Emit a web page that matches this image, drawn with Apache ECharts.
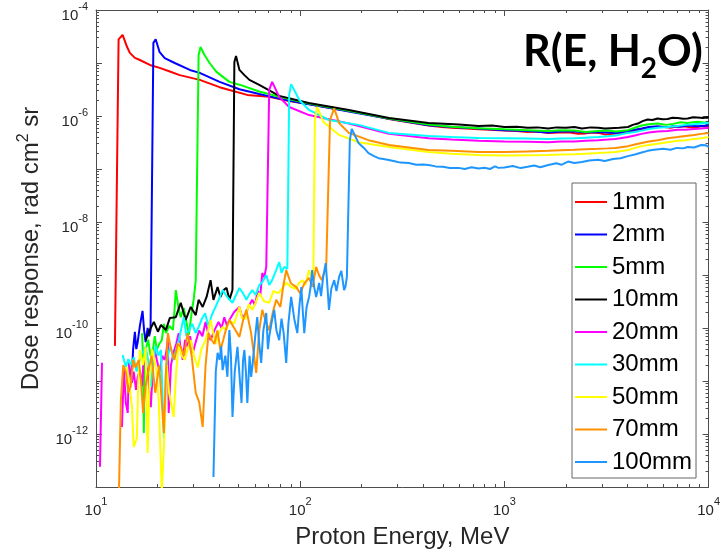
<!DOCTYPE html>
<html><head><meta charset="utf-8">
<script src="https://cdn.jsdelivr.net/npm/echarts@6/dist/echarts.min.js"></script>
<style>html,body{margin:0;padding:0;background:#fff}#c{width:723px;height:555px}</style>
</head><body><div id="c"></div>
<script>
// ---------------- data ----------------
const seriesNames = ['1mm','2mm','5mm','10mm','20mm','30mm','50mm','70mm','100mm'];

const d1mm = [[12.38,4.6e-11],[12.9,2.8e-5],[13.5,3.4e-5],[14.2,2.0e-5],[14.65,1.55e-5],[15.5,1.25e-5],[16.4,1.14e-5],[18.35,9.2e-6],[20.5,8.1e-6],[23,6.9e-6],[25.7,5.9e-6],[32.2,4.8e-6],[40.3,3.5e-6],[45,3.1e-6],[55,2.5e-6],[70.5,2.3e-6],[88,1.92e-6],[110,1.68e-6],[140,1.42e-6],[173,1.24e-6],[220,1.04e-6],[272,8.8e-7],[340,7.6e-7],[425,6.6e-7],[480,6.3e-7],[550,6.0e-7],[650,5.8e-7],[747,5.6e-7],[850,5.5e-7],[1000,5.3e-7],[1150,5.2e-7],[1300,5.0e-7],[1450,5.1e-7],[1640,4.8e-7],[1850,4.9e-7],[2100,4.9e-7],[2300,4.6e-7],[2500,4.7e-7],[2700,4.9e-7],[2880,4.8e-7],[3100,4.5e-7],[3400,4.6e-7],[3700,4.8e-7],[4030,5.0e-7],[4350,5.3e-7],[4700,5.6e-7],[5100,5.9e-7],[5630,6.2e-7],[6000,6.3e-7],[6500,6.0e-7],[7000,6.3e-7],[7500,6.4e-7],[8200,6.1e-7],[8800,6.2e-7],[9400,6.5e-7],[10000,6.3e-7]];

const d2mm = [[15.0,1.42e-11],[15.2,4e-11],[15.5,8.5e-11],[15.75,4e-11],[16.0,5.4e-11],[16.4,1.1e-10],[16.9,2.1e-10],[17.2,9e-11],[17.5,5.4e-11],[17.9,1.0e-10],[18.2,7e-11],[18.5,9.2e-11],[19.1,2.4e-5],[19.6,2.8e-5],[20.5,1.6e-5],[21.7,1.24e-5],[24.3,1.0e-5],[28.8,7.4e-6],[32.2,6.5e-6],[40.3,4.4e-6],[50.4,3.2e-6],[63,2.6e-6],[78,2.15e-6],[100,1.78e-6],[140,1.42e-6],[173,1.22e-6],[272,8.9e-7],[425,6.7e-7],[550,6.2e-7],[747,5.8e-7],[1000,5.4e-7],[1300,5.2e-7],[1640,4.9e-7],[1900,5.1e-7],[2200,5.1e-7],[2500,4.9e-7],[2880,5.0e-7],[3200,4.9e-7],[3500,4.8e-7],[4030,5.2e-7],[4350,5.5e-7],[4700,5.8e-7],[5100,6.2e-7],[5630,6.4e-7],[6200,6.1e-7],[6700,6.4e-7],[7300,6.3e-7],[7900,6.6e-7],[8800,6.4e-7],[10000,6.6e-7]];

const d5mm = [[16.8,8e-11],[17.0,3e-11],[17.15,1.04e-12],[17.3,1.5e-11],[17.5,3.85e-11],[18.0,6e-11],[18.5,3e-11],[19.0,3.85e-11],[19.4,7e-11],[19.85,3.85e-11],[20.4,5e-11],[21.0,5.9e-11],[21.5,1.2e-10],[22.0,8e-11],[22.9,1.1e-10],[23.8,9.2e-11],[24.2,2e-10],[24.6,5.2e-10],[25.3,2.5e-10],[26.0,1.6e-10],[26.9,2.4e-10],[27.7,1.3e-10],[28.5,7.4e-11],[29.4,1.92e-10],[30.1,3.5e-10],[30.8,8e-10],[31.8,1.4e-5],[32.5,2.0e-5],[34.0,1.42e-5],[36.0,1.0e-5],[38.9,6.8e-6],[45,4.4e-6],[50.4,3.9e-6],[63,2.9e-6],[79,2.3e-6],[110,1.72e-6],[173,1.26e-6],[272,9.0e-7],[425,6.9e-7],[550,6.3e-7],[747,5.9e-7],[1000,5.6e-7],[1300,5.4e-7],[1640,5.2e-7],[1900,5.4e-7],[2200,5.3e-7],[2500,5.0e-7],[2880,5.2e-7],[3200,5.3e-7],[3500,5.1e-7],[4030,5.4e-7],[4350,6.0e-7],[4700,6.6e-7],[5100,7.0e-7],[5630,7.2e-7],[6200,6.8e-7],[6700,7.1e-7],[7300,7.6e-7],[7900,7.4e-7],[8800,7.8e-7],[10000,7.4e-7]];

const d10mm = [[17.5,5.9e-11],[18.35,9.2e-11],[19.2,1.3e-10],[20.1,8.5e-11],[20.8,1.14e-10],[22.0,9.2e-11],[23.0,1.55e-10],[24.6,1.6e-10],[26.0,3.0e-10],[27.5,1.42e-10],[29.1,2.5e-10],[30.8,1.75e-10],[31.8,3.4e-10],[33.3,2.5e-10],[34.8,3.85e-10],[36.4,8e-10],[37.6,3.4e-10],[39.4,5.9e-10],[40.7,3.85e-10],[42.1,5.2e-10],[43.6,5.7e-10],[45.0,3.4e-10],[46.6,5.2e-10],[47.6,1.04e-5],[48.5,1.35e-5],[50.4,7.4e-6],[53.3,5.9e-6],[56.4,4.8e-6],[63,3.85e-6],[79,2.4e-6],[110,1.76e-6],[173,1.3e-6],[272,9.2e-7],[425,7.4e-7],[600,6.9e-7],[747,6.5e-7],[870,6.6e-7],[1000,6.2e-7],[1150,6.3e-7],[1300,6.0e-7],[1450,6.1e-7],[1640,5.8e-7],[1800,6.1e-7],[2000,6.0e-7],[2200,6.2e-7],[2400,5.8e-7],[2650,6.1e-7],[2880,6.0e-7],[3100,5.8e-7],[3300,5.9e-7],[3650,6.0e-7],[4030,6.2e-7],[4250,6.8e-7],[4500,7.2e-7],[4750,8.0e-7],[5030,8.6e-7],[5300,8.4e-7],[5630,9.0e-7],[5950,8.7e-7],[6300,8.8e-7],[6650,9.3e-7],[7060,9.2e-7],[7500,8.9e-7],[7900,9.0e-7],[8400,9.5e-7],[8800,9.4e-7],[9400,9.2e-7],[10000,9.6e-7]];

const d20mm = [[10.46,2.4e-13],[10.7,2.2e-11],[10.9,'-'],[13.4,1.36e-12],[13.7,1.6e-11],[14.0,3.85e-12],[14.3,2.5e-12],[14.5,2.2e-11],[15.0,9.2e-12],[15.3,1.5e-11],[15.7,6.8e-12],[16.0,1.2e-11],[16.4,1.6e-11],[16.8,8e-12],[17.15,2.5e-11],[17.6,2e-11],[18.0,1.2e-11],[18.55,3.2e-12],[19.0,1.8e-11],[19.4,3.85e-11],[20.0,2.2e-11],[20.5,1.5e-11],[21.1,3e-11],[21.7,2.5e-11],[22.2,4e-11],[22.5,6.8e-11],[22.7,2.5e-12],[23.3,2e-11],[24.0,3.5e-11],[24.7,5e-11],[25.4,8e-11],[26.0,4e-11],[26.6,2.5e-11],[27.3,6e-11],[28.0,4.5e-11],[28.9,7e-11],[29.8,3.4e-11],[31,6e-11],[32.0,9e-11],[33.2,7e-11],[34.4,1.3e-10],[35.4,8e-11],[36.4,5.9e-11],[38,9e-11],[39.8,1.3e-10],[41.2,1e-10],[42.5,1.6e-10],[43.8,1.1e-10],[45,1.42e-10],[47.5,2e-10],[50.4,2.5e-10],[52,1.6e-10],[54,1.8e-10],[56,2.6e-10],[58.3,3.4e-10],[60,2.7e-10],[62,5.0e-10],[63.8,4.2e-10],[65.2,1.09e-9],[66.7,9e-10],[68.2,1.42e-9],[70.5,3.1e-6],[72.9,4.4e-6],[78.9,2.3e-6],[88.3,1.48e-6],[110.5,1.04e-6],[140,8.6e-7],[173,7.2e-7],[272,4.6e-7],[425,3.8e-7],[550,3.6e-7],[747,3.4e-7],[1000,3.3e-7],[1300,3.25e-7],[1640,3.2e-7],[1900,3.3e-7],[2200,3.3e-7],[2500,3.4e-7],[2880,3.5e-7],[3200,3.6e-7],[3500,3.7e-7],[4030,4.0e-7],[4350,4.3e-7],[4700,4.6e-7],[5100,4.9e-7],[5630,5.1e-7],[6300,5.2e-7],[7060,5.5e-7],[7700,5.5e-7],[8500,5.7e-7],[9200,5.8e-7],[10000,6.0e-7]];

const d30mm = [[13.5,3.1e-11],[14.0,1.84e-11],[14.4,2.6e-11],[14.8,2.0e-11],[15.3,2.8e-11],[15.8,1.5e-11],[16.6,3e-11],[17.5,4.4e-11],[18.0,2.5e-11],[18.55,7.7e-12],[19.1,2.5e-11],[19.6,4.6e-11],[20.2,3e-11],[20.8,3.85e-11],[21.5,8.4e-13],[22.0,1.5e-11],[22.5,3.1e-11],[23.2,4.5e-11],[24.0,2.5e-11],[24.7,4e-11],[25.5,6e-11],[26.2,1e-10],[26.9,1.6e-10],[27.7,7e-11],[28.5,9e-11],[29.6,1.2e-10],[30.8,8e-11],[32,1.1e-10],[33,1.5e-10],[34.2,1.9e-10],[35.5,1.1e-10],[37,1.8e-10],[38.5,2.5e-10],[40,3.5e-10],[41.7,5.2e-10],[44,3.8e-10],[46.6,3.0e-10],[48.5,4.2e-10],[50.4,5.7e-10],[52.5,4.5e-10],[54.5,3.4e-10],[56.5,4.4e-10],[58.3,5.2e-10],[60.5,4.2e-10],[63,6.4e-10],[65.5,7.5e-10],[68.2,1.0e-9],[70.5,6.5e-10],[72.9,8e-10],[76,1.2e-9],[78.9,1.76e-9],[81,1.1e-9],[83.5,1.42e-9],[86.5,1.3e-9],[88.3,2.5e-6],[90.3,4.0e-6],[99,2.0e-6],[110.5,1.3e-6],[138,8.4e-7],[193,6.8e-7],[272,4.8e-7],[425,4.2e-7],[550,4.0e-7],[747,3.85e-7],[1000,3.8e-7],[1300,3.75e-7],[1640,3.7e-7],[1900,3.75e-7],[2200,3.8e-7],[2500,3.9e-7],[2880,4.0e-7],[3200,4.15e-7],[3500,4.3e-7],[4030,4.8e-7],[4350,5.0e-7],[4700,5.3e-7],[5100,5.7e-7],[5630,6.0e-7],[6300,6.2e-7],[7060,6.5e-7],[7700,6.8e-7],[8500,7.0e-7],[9200,7.2e-7],[10000,7.4e-7]];

const d50mm = [[14.2,1.84e-11],[14.6,8e-12],[15.0,3.2e-12],[15.3,5.7e-13],[15.85,8.4e-13],[16.1,9e-12],[16.4,3.85e-11],[17.0,2e-11],[17.5,4.4e-11],[17.9,4.4e-13],[18.3,1e-11],[18.8,4e-11],[19.3,2.5e-11],[19.8,1.5e-11],[20.3,4e-12],[21.0,8e-14],[21.5,5.7e-13],[22.2,2e-11],[22.8,6e-12],[24.0,2.1e-12],[24.7,1.5e-11],[25.4,5.2e-11],[26.3,3e-11],[27.2,2.5e-11],[28.1,4e-11],[29.1,5.9e-11],[30.2,3e-11],[31.5,1.8e-11],[32.8,4e-11],[34.4,5.9e-11],[35.4,9e-11],[36.4,1.42e-10],[37.5,8e-11],[38.5,5e-11],[40,8e-11],[41.7,1.04e-10],[43.6,9.2e-11],[45,1.4e-10],[47.5,1.2e-10],[50.4,2.5e-10],[52,1.5e-10],[54,1.5e-10],[56,2.8e-10],[58.3,2.2e-10],[60.5,3e-10],[63,4.6e-10],[66.5,3.2e-10],[70.5,3.0e-10],[74,5e-10],[78,4.5e-10],[81.5,5.5e-10],[85.4,7.1e-10],[90,6e-10],[95,5.5e-10],[98.5,7e-10],[102.4,8e-10],[106,6.5e-10],[110.5,1.24e-9],[113.5,9e-10],[116,1.1e-9],[118,8.4e-7],[121,1.48e-6],[130,7.7e-7],[155,4.4e-7],[193,3.2e-7],[272,2.6e-7],[425,2.1e-7],[550,1.95e-7],[747,1.84e-7],[1000,1.8e-7],[1300,1.82e-7],[1640,1.84e-7],[1900,1.87e-7],[2200,1.9e-7],[2500,1.95e-7],[2880,2.0e-7],[3200,2.05e-7],[3500,2.1e-7],[4030,2.28e-7],[4350,2.5e-7],[4700,2.7e-7],[5100,2.85e-7],[5630,3.0e-7],[6300,3.2e-7],[7060,3.4e-7],[7700,3.5e-7],[8500,3.7e-7],[9200,3.8e-7],[10000,4.0e-7]];

const d70mm = [[12.95,8e-14],[13.24,4.4e-12],[13.6,2e-11],[14.0,1.5e-11],[14.4,6e-12],[14.8,8e-12],[15.2,2.5e-11],[15.6,1.8e-11],[16.2,2.5e-11],[16.6,1e-11],[17.0,2.5e-12],[17.5,8e-12],[18.0,1.5e-11],[18.7,3e-11],[19.5,6e-12],[20.4,2e-11],[21.0,4e-12],[21.5,1.04e-12],[22.0,1.5e-11],[22.5,8e-11],[23.3,4e-11],[24.2,2.5e-11],[25.1,5e-11],[26.0,4.4e-11],[27.0,3e-11],[28.1,8e-11],[29.4,3e-11],[30.8,5.9e-12],[32,4e-12],[33.3,1.36e-12],[34.4,2e-11],[35.6,8e-11],[36.8,6e-11],[38,5e-11],[39.3,9e-11],[40.7,3.85e-11],[42,6e-11],[43.5,1e-10],[45,1.42e-10],[47.5,1e-10],[50.4,6.8e-11],[52.5,1.4e-10],[54.5,2.2e-10],[57.5,8e-11],[60.9,1.42e-11],[63,9e-11],[65.2,2.2e-10],[68,1.3e-10],[70.5,9e-11],[73.5,2e-10],[76.3,3.4e-10],[80,2.5e-10],[82.5,6e-10],[85.4,1.24e-9],[90,7e-10],[95.7,5.9e-10],[100,4.5e-10],[105,7e-10],[110.5,8.8e-10],[115,6e-10],[119.7,1.42e-9],[123.5,1e-9],[127.4,8e-10],[131,1.1e-9],[134,1.3e-9],[140,8.4e-7],[146.7,1.4e-6],[155,7.4e-7],[173,4.8e-7],[216,3.5e-7],[272,2.84e-7],[425,2.28e-7],[550,2.2e-7],[747,2.1e-7],[1000,2.1e-7],[1300,2.15e-7],[1640,2.2e-7],[1900,2.25e-7],[2200,2.3e-7],[2500,2.35e-7],[2880,2.4e-7],[3200,2.45e-7],[3500,2.5e-7],[4030,2.7e-7],[4350,2.9e-7],[4700,3.1e-7],[5100,3.3e-7],[5630,3.5e-7],[6300,3.8e-7],[7060,4.0e-7],[7700,4.2e-7],[8500,4.4e-7],[9200,4.6e-7],[10000,4.8e-7]];

const d100mm = [[37.6,1.55e-13],[38.6,1.5e-11],[39.4,3.4e-11],[40.3,2.5e-11],[41.0,4.5e-11],[41.7,1.6e-11],[43.0,3e-11],[44.0,1.2e-11],[45,9.2e-11],[45.8,3e-11],[46.6,2.1e-12],[47.8,1.5e-11],[49.3,4.4e-11],[50.5,1.2e-11],[51.6,3.85e-12],[52.5,2.5e-11],[53.3,3.85e-11],[54.2,1.5e-11],[55.1,3.85e-12],[56.5,3e-11],[57.5,1.2e-11],[58.3,1.84e-11],[60,6e-11],[61.6,1.6e-10],[63,5e-11],[64.4,2.2e-11],[66,9e-11],[68.2,1.92e-10],[69.5,4e-11],[70.5,6.8e-11],[72.5,1.3e-10],[74.6,2.2e-10],[76.5,9e-11],[78.9,5.9e-11],[81,1.5e-10],[83,8e-11],[85.4,2.2e-11],[87.5,1.2e-10],[90.3,3.85e-10],[93.5,1.5e-10],[96.8,8e-11],[99,2.5e-10],[101.3,5.9e-10],[103,2e-10],[104.7,8e-11],[107.5,2.5e-10],[110.5,3.85e-10],[112.5,6e-10],[114.4,1.24e-9],[117,6e-10],[119.7,3.85e-10],[121.5,5e-10],[123.8,7.1e-10],[126.5,4e-10],[129.5,9e-10],[133.3,1.68e-9],[136,6e-10],[138.3,2.2e-10],[142,5.5e-10],[146.7,8e-10],[150.5,5e-10],[155.1,9.2e-10],[159,1.2e-9],[164,5.2e-10],[166.5,6e-10],[169.3,9.2e-10],[172,8.5e-10],[175,3.5e-7],[178.8,5.7e-7],[193,3.1e-7],[205,2.5e-7],[216,2.0e-7],[230,1.75e-7],[242,1.6e-7],[255,1.55e-7],[272,1.48e-7],[290,1.4e-7],[310,1.32e-7],[340,1.3e-7],[370,1.2e-7],[400,1.22e-7],[425,1.19e-7],[460,1.12e-7],[500,1.1e-7],[540,1.04e-7],[597,1.05e-7],[640,1.0e-7],[690,1.08e-7],[747,1.02e-7],[800,1.06e-7],[850,1.0e-7],[900,1.12e-7],[935,1.05e-7],[1000,1.07e-7],[1100,1.14e-7],[1200,1.04e-7],[1300,1.1e-7],[1400,1.16e-7],[1500,1.08e-7],[1640,1.19e-7],[1800,1.28e-7],[1900,1.2e-7],[2050,1.38e-7],[2200,1.3e-7],[2400,1.35e-7],[2600,1.45e-7],[2880,1.5e-7],[3100,1.42e-7],[3400,1.55e-7],[3700,1.6e-7],[4030,1.75e-7],[4400,1.9e-7],[4700,2.05e-7],[5030,2.2e-7],[5400,2.3e-7],[6000,2.4e-7],[6500,2.3e-7],[7000,2.5e-7],[7500,2.45e-7],[7900,2.6e-7],[8500,2.55e-7],[9200,2.84e-7],[9700,2.8e-7],[10000,2.6e-7]];

const seriesData = [d1mm,d2mm,d5mm,d10mm,d20mm,d30mm,d50mm,d70mm,d100mm];

// tick labels (exponents of 10)
const xLabelExps = [1,2,3,4];
const yLabelExps = [-12,-10,-8,-6,-4];

// ---------------- styles ----------------
const seriesColors = ['#FF0000','#0000FF','#00FF00','#000000','#FF00FF','#00FFFF','#FFFF00','#FF9100','#1E96FF'];
const FONT = 'Liberation Sans, Arial, Helvetica, sans-serif';
const AX = '#4d4d4d';
const TXT = '#262626';

const chart = echarts.init(document.getElementById('c'), null, {renderer:'canvas'});

function minorLogs(lo, hi){ const o=[]; for(let e=lo;e<hi;e++){ for(let k=2;k<=9;k++) o.push(e+Math.log10(k)); } return o; }
function majorLogs(lo, hi){ const o=[]; for(let e=lo;e<=hi;e++) o.push(e); return o; }

const labelRich = {
  b: {fontSize:15, fontFamily:FONT, color:TXT, padding:[12,0,0,0]},
  sup: {fontSize:11, fontFamily:FONT, color:TXT, padding:[0,0,6,0]}
};
function fmt(exps){ return function(v){ const e=Math.round(Math.log10(v)); return exps.indexOf(e)>=0 ? '{b|10}{sup|'+e+'}' : ''; }; }

function deco(pos, min, max, vals, len, showLine){
  return {
    type:'value', position:pos, min:min, max:max, gridIndex:0,
    axisLine:{show:!!showLine, onZero:false, lineStyle:{color:AX, width:1}},
    axisTick:{show:true, inside:true, length:len, customValues:vals, lineStyle:{color:AX, width:1}},
    axisLabel:{show:false}, splitLine:{show:false}, minorTick:{show:false}, silent:true
  };
}

const option = {
  animation:false,
  backgroundColor:'#fff',
  grid:{left:96, right:12, top:10, bottom:68, containLabel:false},
  legend:{
    orient:'vertical', left:572, top:183,
    data:seriesNames, icon:'rect', itemWidth:32, itemHeight:2, itemGap:8.5,
    padding:[7,4,4,3], borderColor:'#666', borderWidth:1, backgroundColor:'#fff',
    textStyle:{fontSize:24, color:'#000', fontFamily:FONT}, selectedMode:false
  },
  xAxis:[
    {type:'log', logBase:10, min:10, max:10000, splitNumber:3, position:'bottom',
     axisLine:{show:true, onZero:false, lineStyle:{color:AX, width:1}},
     axisTick:{show:true, inside:true, length:6, lineStyle:{color:AX}},
     minorTick:{show:false}, splitLine:{show:false},
     axisLabel:{show:true, margin:4, formatter:fmt(xLabelExps), rich:labelRich, hideOverlap:false, showMinLabel:true, showMaxLabel:true},
     name:'Proton Energy, MeV', nameLocation:'middle', nameGap:38,
     nameTextStyle:{fontSize:24, color:TXT, fontFamily:FONT}},
    deco('bottom',1,4,minorLogs(1,4),3,false),
    deco('top',1,4,majorLogs(1,4),6,true),
    deco('top',1,4,minorLogs(1,4),3,false)
  ],
  yAxis:[
    {type:'log', logBase:10, min:1e-13, max:1e-4, splitNumber:9, position:'left',
     axisLine:{show:true, onZero:false, lineStyle:{color:AX, width:1}},
     axisTick:{show:true, inside:true, length:6, lineStyle:{color:AX}},
     minorTick:{show:false}, splitLine:{show:false},
     axisLabel:{show:true, margin:8, formatter:fmt(yLabelExps), rich:labelRich, hideOverlap:false, showMinLabel:true, showMaxLabel:true},
     name:'Dose response, rad cm{sup|2} sr', nameLocation:'middle', nameGap:50,
     nameTextStyle:{fontSize:24, color:TXT, fontFamily:FONT,
       rich:{sup:{fontSize:16, color:TXT, fontFamily:FONT, padding:[0,0,14,0]}}}},
    deco('left',-13,-4,minorLogs(-13,-4),3,false),
    deco('right',-13,-4,majorLogs(-13,-4),6,true),
    deco('right',-13,-4,minorLogs(-13,-4),3,false)
  ],
  graphic:[{
    type:'text', left:523, top:31, silent:true,
    style:{text:'R(E, H{sub|2}O)', fontFamily:'Lato', fontWeight:'bold', fontSize:43, fill:'#000',
      rich:{sub:{fontFamily:'Lato', fontWeight:'bold', fontSize:28, fill:'#000', padding:[32,0,0,0]}}}
  }],
  series: seriesNames.map((n,i)=>({
    name:n, type:'line', xAxisIndex:0, yAxisIndex:0, data:seriesData[i],
    showSymbol:false, symbol:'none', connectNulls:false, clip:true,
    lineStyle:{width:2, color:seriesColors[i]}, itemStyle:{color:seriesColors[i]},
    emphasis:{disabled:true}, z:2+i
  }))
};
chart.setOption(option);
</script>
</body></html>
